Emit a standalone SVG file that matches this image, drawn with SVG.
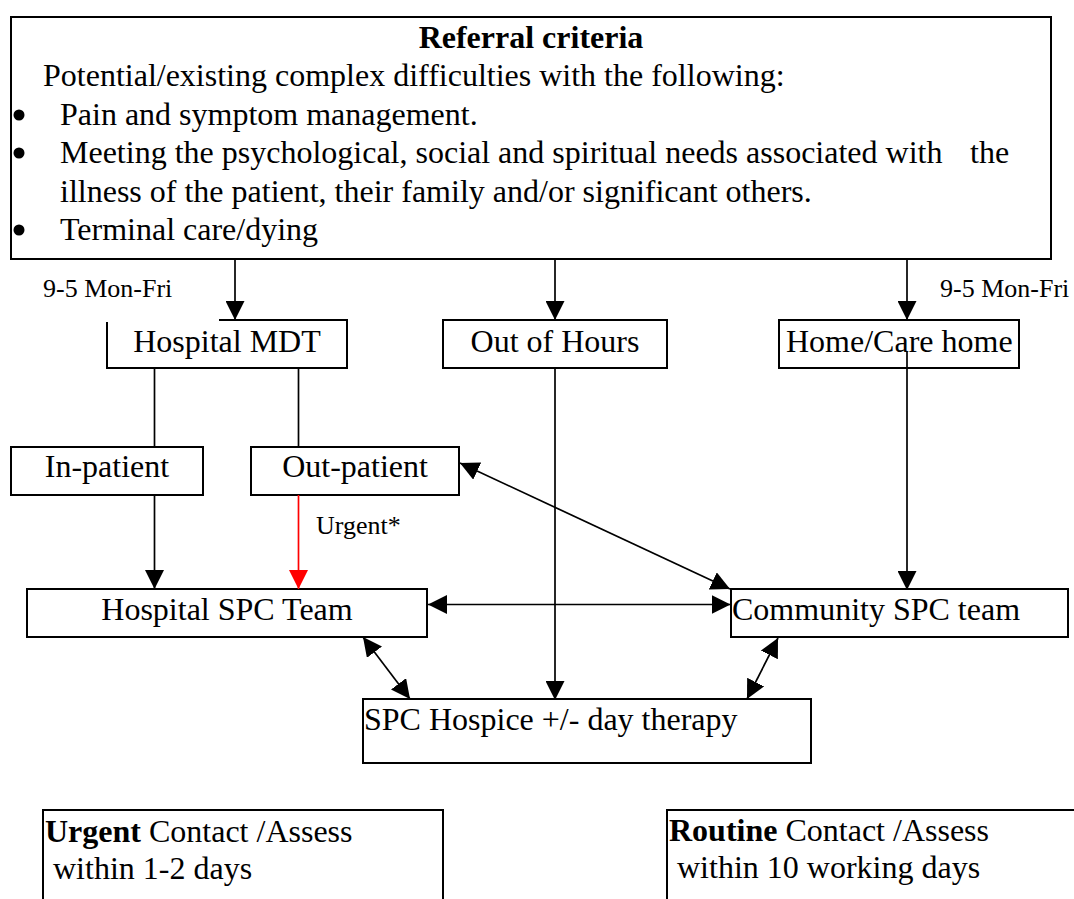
<svg xmlns="http://www.w3.org/2000/svg" width="1074" height="899" viewBox="0 0 1074 899">
<style>
.box{fill:#fff;stroke:#000;stroke-width:2}
.t{font-family:"Liberation Serif","Times New Roman",serif;font-size:32px;fill:#000}
.s{font-family:"Liberation Serif","Times New Roman",serif;font-size:26px;fill:#000}
.b{font-weight:bold}
.ln{fill:none;stroke:#000;stroke-width:1.7}
.red{fill:none;stroke:#f00;stroke-width:1.7}
</style>
<defs>
<marker id="ah" viewBox="0 0 19 19" refX="19" refY="9.5" markerWidth="19" markerHeight="19" markerUnits="userSpaceOnUse" orient="auto-start-reverse"><path d="M0,0 L19,9.5 L0,19 z" fill="#000"/></marker>
<marker id="ahr" viewBox="0 0 19 19" refX="19" refY="9.5" markerWidth="19" markerHeight="19" markerUnits="userSpaceOnUse" orient="auto"><path d="M0,0 L19,9.5 L0,19 z" fill="#f00"/></marker>
</defs>
<rect width="1074" height="899" fill="#fff"/>

<g id="referral">
<rect class="box" x="11" y="17" width="1040" height="242"/>
<text class="t b" x="531" y="48" text-anchor="middle">Referral criteria</text>
<text class="t" x="43" y="86">Potential/existing complex difficulties with the following:</text>
<circle cx="19" cy="115" r="5.5"/>
<text class="t" x="60" y="125">Pain and symptom management.</text>
<circle cx="19" cy="153" r="5.5"/>
<text class="t" x="60" y="163">Meeting the psychological, social and spiritual needs associated with<tspan x="970">the</tspan></text>
<text class="t" x="60" y="202">illness of the patient, their family and/or significant others.</text>
<circle cx="19" cy="230" r="5.5"/>
<text class="t" x="60" y="240">Terminal care/dying</text>
</g>

<g id="label-left"><text class="s" x="43" y="297">9-5 Mon-Fri</text></g>
<g id="label-right"><text class="s" x="940" y="297">9-5 Mon-Fri</text></g>

<g id="hospital-mdt">
<rect x="107" y="320" width="240" height="48" fill="#fff"/>
<path d="M219,320 H347 V368 H107 V322" fill="none" stroke="#000" stroke-width="2"/>
<text class="t" x="227" y="352" text-anchor="middle">Hospital MDT</text>
</g>

<g id="out-of-hours">
<rect class="box" x="443" y="320" width="224" height="48"/>
<text class="t" x="555" y="352" text-anchor="middle">Out of Hours</text>
</g>

<g id="home-care">
<rect class="box" x="779" y="320" width="240" height="48"/>
<text class="t" x="786" y="352">Home/Care home</text>
</g>

<g id="in-patient">
<rect class="box" x="11" y="447" width="192" height="48"/>
<text class="t" x="107" y="477" text-anchor="middle">In-patient</text>
</g>

<g id="out-patient">
<rect class="box" x="251" y="447" width="208" height="48"/>
<text class="t" x="355" y="477" text-anchor="middle">Out-patient</text>
</g>

<g id="hospital-spc">
<rect class="box" x="27" y="589" width="400" height="48"/>
<text class="t" x="227" y="620" text-anchor="middle">Hospital SPC Team</text>
</g>

<g id="community-spc">
<rect class="box" x="731" y="589" width="337" height="48"/>
<text class="t" x="732" y="620">Community SPC team</text>
</g>

<g id="hospice">
<rect class="box" x="363" y="699" width="448" height="64"/>
<text class="t" x="364" y="730">SPC Hospice +/- day therapy</text>
</g>

<g id="urgent-note">
<rect class="box" x="43" y="810" width="400" height="100"/>
<text class="t" x="45" y="842"><tspan class="b">Urgent</tspan> Contact /Assess</text>
<text class="t" x="53" y="879">within 1-2 days</text>
</g>

<g id="routine-note">
<rect class="box" x="667" y="810" width="420" height="100"/>
<text class="t" x="669" y="841"><tspan class="b">Routine</tspan> Contact /Assess</text>
<text class="t" x="677" y="878">within 10 working days</text>
</g>

<g id="connectors">
<line class="ln" x1="235" y1="258" x2="235" y2="320" marker-end="url(#ah)"/>
<line class="ln" x1="555" y1="258" x2="555" y2="320" marker-end="url(#ah)"/>
<line class="ln" x1="907" y1="258" x2="907" y2="320" marker-end="url(#ah)"/>
<line class="ln" x1="154.5" y1="368" x2="154.5" y2="447"/>
<line class="ln" x1="298.5" y1="368" x2="298.5" y2="447"/>
<line class="ln" x1="154.5" y1="495" x2="154.5" y2="589" marker-end="url(#ah)"/>
<line class="red" x1="298.5" y1="495" x2="298.5" y2="589" marker-end="url(#ahr)"/>
<text class="s" x="316" y="534">Urgent*</text>
<line class="ln" x1="555" y1="368" x2="555" y2="700" marker-end="url(#ah)"/>
<line class="ln" x1="907" y1="352" x2="907" y2="590" marker-end="url(#ah)"/>
<line class="ln" x1="460" y1="463" x2="730" y2="589" marker-start="url(#ah)" marker-end="url(#ah)"/>
<line class="ln" x1="428" y1="604.5" x2="730.5" y2="604.5" marker-start="url(#ah)" marker-end="url(#ah)"/>
<line class="ln" x1="363" y1="637" x2="410" y2="699" marker-start="url(#ah)" marker-end="url(#ah)"/>
<line class="ln" x1="778" y1="638" x2="747" y2="699" marker-start="url(#ah)" marker-end="url(#ah)"/>
</g>
</svg>
